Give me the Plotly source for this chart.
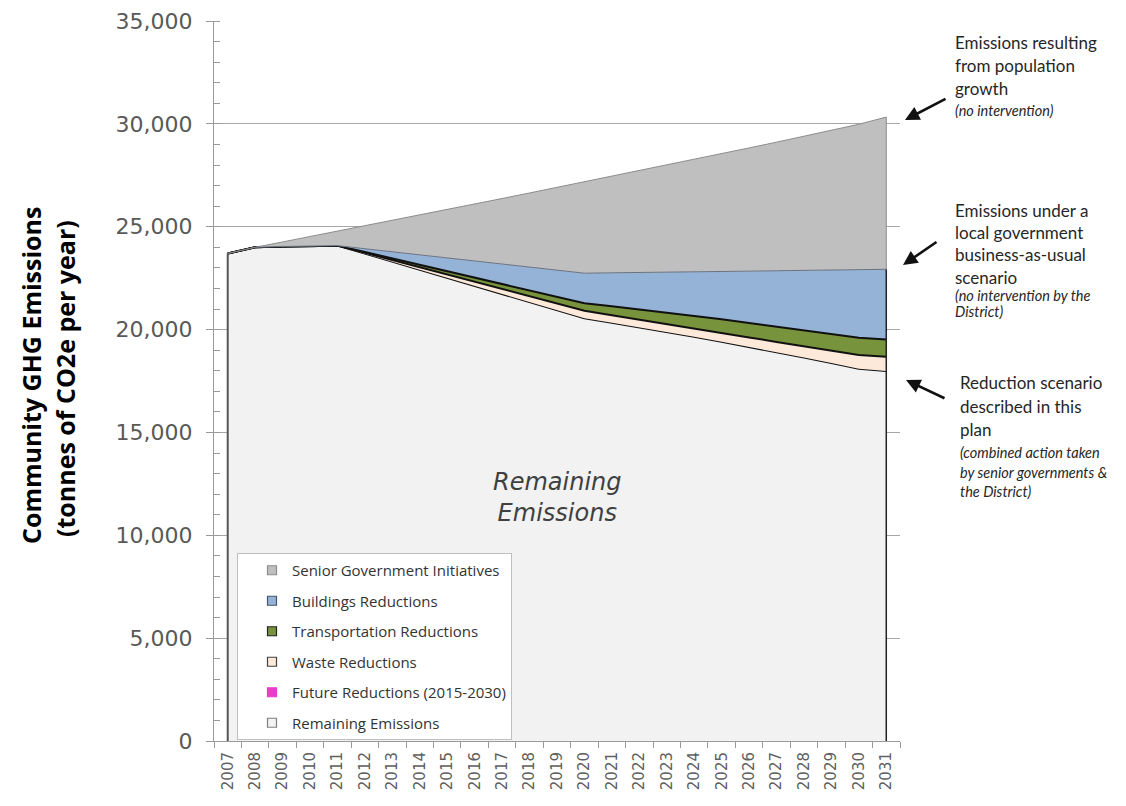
import plotly.graph_objects as go

# ---------------- data ----------------
years = [str(y) for y in range(2007, 2032)]

remaining = [23700, 24000, 24040, 24070, 24080, 23690, 23300, 22900, 22510, 22120,
             21730, 21330, 20940, 20550, 20330, 20110, 19880, 19650, 19410, 19160,
             18900, 18640, 18370, 18090, 17990]
future = [0, 0, 0, 0, 0, 0, 0, 0, 0, 0, 0, 0, 0, 0, 0, 0, 0, 0, 0, 0, 0, 0, 0, 0, 0]
waste = [0, 0, 0, 0, 0, 40, 80, 130, 170, 210, 240, 290, 330, 370, 370, 380,
         400, 410, 430, 460, 500, 540, 600, 670, 690]
transport = [0, 0, 0, 0, 0, 40, 80, 120, 160, 200, 240, 280, 320, 360, 430, 490,
             550, 620, 660, 700, 740, 780, 810, 840, 840]
buildings = [0, 0, 0, 0, 0, 160, 320, 480, 640, 810, 980, 1140, 1300, 1460, 1630,
             1790, 1960, 2130, 2320, 2520, 2720, 2920, 3110, 3310, 3410]
senior = [0, 0, 220, 450, 700, 1110, 1530, 1940, 2360, 2760, 3180, 3600, 4020,
          4440, 4690, 4950, 5210, 5460, 5730, 5990, 6250, 6520, 6800, 7070, 7400]

series_names = ["Remaining Emissions", "Future Reductions (2015-2030)", "Waste Reductions",
                "Transportation Reductions", "Buildings Reductions", "Senior Government Initiatives"]
y_ticks = [0, 5000, 10000, 15000, 20000, 25000, 30000, 35000]

# ---------------- styles ----------------
fills = ["#f2f2f2", "#e83ec8", "#fde9d9", "#77933c", "#95b3d7", "#bfbfbf"]
lines = [("#111111", 2), ("#e83ec8", 0), ("#111111", 2), ("#111111", 2), ("#6b7280", 1), ("#8c8c8c", 1)]
legend_borders = ["#7f7f7f", "#e83ec8", "#404040", "#222222", "#44546a", "#8c8c8c"]
values = [remaining, future, waste, transport, buildings, senior]

fig = go.Figure()

for name, vals, fc, (lc, lw) in zip(series_names, values, fills, lines):
    fig.add_trace(go.Scatter(
        x=years, y=vals, name=name, stackgroup="one", mode="lines",
        fillcolor=fc, line=dict(color=lc, width=lw), showlegend=False,
        hoverinfo="x+y+name"))

# vertical edges of the stacked areas (derived from the data)
bau_last = sum(v[-1] for v in values[:5])
tot_last = bau_last + senior[-1]
fig.add_trace(go.Scatter(x=[years[0], years[0]], y=[0, remaining[0]], mode="lines",
                         line=dict(color="#555555", width=2), showlegend=False, hoverinfo="skip"))
fig.add_trace(go.Scatter(x=[years[-1], years[-1]], y=[0, bau_last], mode="lines",
                         line=dict(color="#222222", width=1.5), showlegend=False, hoverinfo="skip"))
fig.add_trace(go.Scatter(x=[years[-1], years[-1]], y=[bau_last, tot_last], mode="lines",
                         line=dict(color="#8c8c8c", width=1), showlegend=False, hoverinfo="skip"))

# legend entries (square swatches), top to bottom
for i in [5, 4, 3, 2, 1, 0]:
    fig.add_trace(go.Scatter(
        x=[None], y=[None], mode="markers", name=series_names[i], legendgroup=series_names[i],
        marker=dict(symbol="square", size=9, color=fills[i],
                    line=dict(color=legend_borders[i], width=1.2))))

# ---------------- layout helpers ----------------
OFF = 8  # page body margin
FW, FH = 1126 - OFF, 806 - OFF
L, R, T, B = 214, 900, 21, 741  # plot area in screen pixels
W, H = R - L, B - T


def px(xp):
    return (xp - L) / W


def py(yp):
    return (B - yp) / H


annos = []


def text_line(txt, x, y, size=16, italic=False):
    t = "<i>" + txt + "</i>" if italic else txt
    annos.append(dict(text=t, x=px(x), y=py(y), xref="paper", yref="paper",
                      xanchor="left", yanchor="middle", showarrow=False,
                      font=dict(family="Lato", size=size, color="#262626")))


blocks = [
    (953, [("Emissions resulting", 42, False), ("from population", 65, False),
           ("growth", 88, False), ("(no intervention)", 110, True)]),
    (953, [("Emissions under a", 211, False), ("local government", 233, False),
           ("business-as-usual", 255, False), ("scenario", 277, False),
           ("(no intervention by the", 295, True), ("District)", 311, True)]),
    (958, [("Reduction scenario", 382, False), ("described in this", 406, False),
           ("plan", 429, False), ("(combined action taken", 452, True),
           ("by senior governments &", 472, True), ("the District)", 491, True)]),
]
for bx, lines_ in blocks:
    for txt, yy, it in lines_:
        text_line(txt, bx, yy, size=14.5 if it else 17, italic=it)

arrows = [((905, 120), (947, 98)), ((903, 265), (938, 241)), ((906, 380), (946, 399))]
for (hx, hy), (tx, ty) in arrows:
    annos.append(dict(text="", x=px(hx), y=py(hy), xref="paper", yref="paper",
                      ax=tx - hx, ay=ty - hy, axref="pixel", ayref="pixel",
                      showarrow=True, arrowhead=2, arrowsize=1.1, arrowwidth=2.6,
                      arrowcolor="#111111", standoff=0))

annos.append(dict(text="<i>Remaining<br>Emissions</i>", x=px(557), y=py(497),
                  xref="paper", yref="paper", showarrow=False,
                  xanchor="center", yanchor="middle",
                  font=dict(family="DejaVu Sans", size=24, color="#404040")))

annos.append(dict(text="<b>Community GHG Emissions</b>", x=px(31), y=py(376),
                  xref="paper", yref="paper", showarrow=False, textangle=-90,
                  xanchor="center", yanchor="middle",
                  font=dict(family="Open Sans", size=25, color="#000000")))
annos.append(dict(text="<b>(tonnes of CO2e per year)</b>", x=px(65), y=py(379),
                  xref="paper", yref="paper", showarrow=False, textangle=-90,
                  xanchor="center", yanchor="middle",
                  font=dict(family="Open Sans", size=25, color="#000000")))

fig.update_layout(
    width=FW, height=FH,
    margin=dict(l=L - OFF, r=FW - (R - OFF), t=T - OFF, b=FH - (B - OFF), pad=0, autoexpand=False),
    paper_bgcolor="white", plot_bgcolor="white",
    showlegend=True,
    legend=dict(x=px(237), y=py(553), xanchor="left", yanchor="top",
                bgcolor="white", bordercolor="#bfbfbf", borderwidth=1,
                traceorder="grouped", tracegroupgap=8, indentation=14,
                entrywidth=285, entrywidthmode="pixels",
                font=dict(family="Open Sans", size=15, color="#333333"),
                itemclick=False),
    annotations=annos,
    xaxis=dict(type="category", range=[-0.5, 24.5], tickangle=-90,
               tickson="boundaries", ticks="outside", ticklen=6, tickcolor="#9a9a9a",
               showline=True, linecolor="#9a9a9a", linewidth=1, showgrid=False,
               tickfont=dict(family="DejaVu Sans", size=15, color="#5f5f5f"),
               ticklabelstandoff=4, fixedrange=True, automargin=False),
    yaxis=dict(range=[0, 35000], tickvals=y_ticks, tickformat=",",
               ticks="outside", ticklen=7, tickcolor="#9a9a9a",
               showline=True, linecolor="#9a9a9a", linewidth=1,
               showgrid=True, gridcolor="#a6a6a6", gridwidth=1,
               minor=dict(dtick=1000, ticks="inside", ticklen=6, tickcolor="#9a9a9a", showgrid=False),
               tickfont=dict(family="DejaVu Sans", size=22, color="#595959"),
               ticklabelstandoff=9, zeroline=False, fixedrange=True, automargin=False),
)

fig.write_html("out.html")
